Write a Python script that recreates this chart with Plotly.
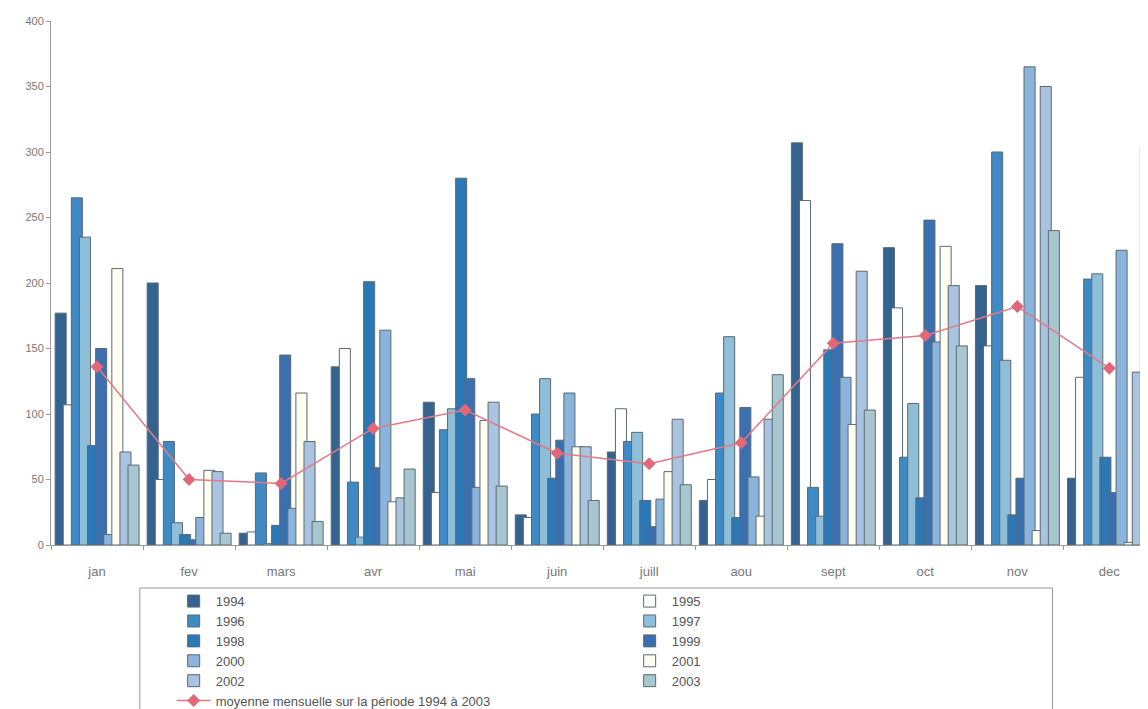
import plotly.graph_objects as go

mois = ["jan", "fev", "mars", "avr", "mai", "juin", "juill", "aou", "sept", "oct", "nov", "dec"]

p1994 = [177, 200, 9, 136, 109, 23, 71, 34, 307, 227, 198, 51]
p1995 = [107, 50, 10, 150, 40, 21, 104, 50, 263, 181, 152, 128]
p1996 = [265, 79, 55, 48, 88, 100, 79, 116, 44, 67, 300, 203]
p1997 = [235, 17, 1, 6, 104, 127, 86, 159, 22, 108, 141, 207]
p1998 = [76, 8, 15, 201, 280, 51, 34, 21, 149, 36, 23, 67]
p1999 = [150, 4, 145, 59, 127, 80, 14, 105, 230, 248, 51, 40]
p2000 = [8, 21, 28, 164, 44, 116, 35, 52, 128, 155, 365, 225]
p2001 = [211, 57, 116, 33, 95, 75, 56, 22, 92, 228, 11, 2]
p2002 = [71, 56, 79, 36, 109, 75, 96, 96, 209, 198, 350, 132]
p2003 = [61, 9, 18, 58, 45, 34, 46, 130, 103, 152, 240, 304]

moyenne = [136, 50, 47, 89, 103, 70, 62, 78, 154, 160, 182, 135]

annees = ["1994", "1995", "1996", "1997", "1998", "1999", "2000", "2001", "2002", "2003"]
series = [p1994, p1995, p1996, p1997, p1998, p1999, p2000, p2001, p2002, p2003]
couleurs = ["#35638f", "#ffffff", "#3f8ac4", "#8fbfd8", "#2a78b5",
            "#3a6fb0", "#8ab4dc", "#fffef0", "#a9c3e0", "#a8c6d0"]

fig = go.Figure()

# barres qui se chevauchent un peu, comme dans excel
pas = 0.088
larg = 0.12
for i, (an, vals) in enumerate(zip(annees, series)):
    fig.add_trace(go.Bar(
        x=mois, y=vals, name=an,
        marker=dict(color=couleurs[i], line=dict(color="#5a6a72", width=1)),
        offset=-0.5 + 0.045 + i * pas, width=larg,
    ))

fig.add_trace(go.Scatter(
    x=mois, y=moyenne, mode="lines+markers",
    name="moyenne mensuelle sur la période 1994 à 2003",
    line=dict(color="#e27a88", width=1.5),
    marker=dict(symbol="diamond", size=10, color="#e06878"),
))

# cadre de la legende (plus etroit que celui de plotly)
fig.add_shape(type="rect", xref="paper", yref="paper",
              x0=0.081, x1=0.913, y0=-0.082, y1=-0.4,
              line=dict(color="#999999", width=1), fillcolor="white", layer="below")

fig.update_layout(
    width=1148, height=709,
    barmode="overlay",
    paper_bgcolor="white", plot_bgcolor="white",
    margin=dict(l=43, r=8, t=13, b=172, autoexpand=False),
    font=dict(family="Arial, Liberation Sans, sans-serif", color="#666666"),
    legend=dict(
        orientation="h", x=0.110, xanchor="left", y=-0.0785, yanchor="top",
        entrywidth=407, traceorder="normal",
        bgcolor="rgba(0,0,0,0)", borderwidth=0,
        font=dict(size=13, color="#555555"),
        itemwidth=34,
    ),
    showlegend=True,
)

fig.update_xaxes(
    range=[-0.5, 11.42], showline=True, linecolor="#9a9a9a", linewidth=1,
    ticks="outside", tickson="boundaries", ticklen=4, tickcolor="#9a9a9a",
    tickfont=dict(size=13, color="#777777"), ticklabelstandoff=14,
    showgrid=False, automargin=False,
)
fig.update_yaxes(
    range=[0, 400], dtick=50, showline=True, linecolor="#9a9a9a", linewidth=1,
    ticks="outside", ticklen=4, tickcolor="#9a9a9a",
    tickfont=dict(size=11, color="#777777"),
    showgrid=False, zeroline=False, automargin=False,
)

fig.write_html("out.html")
